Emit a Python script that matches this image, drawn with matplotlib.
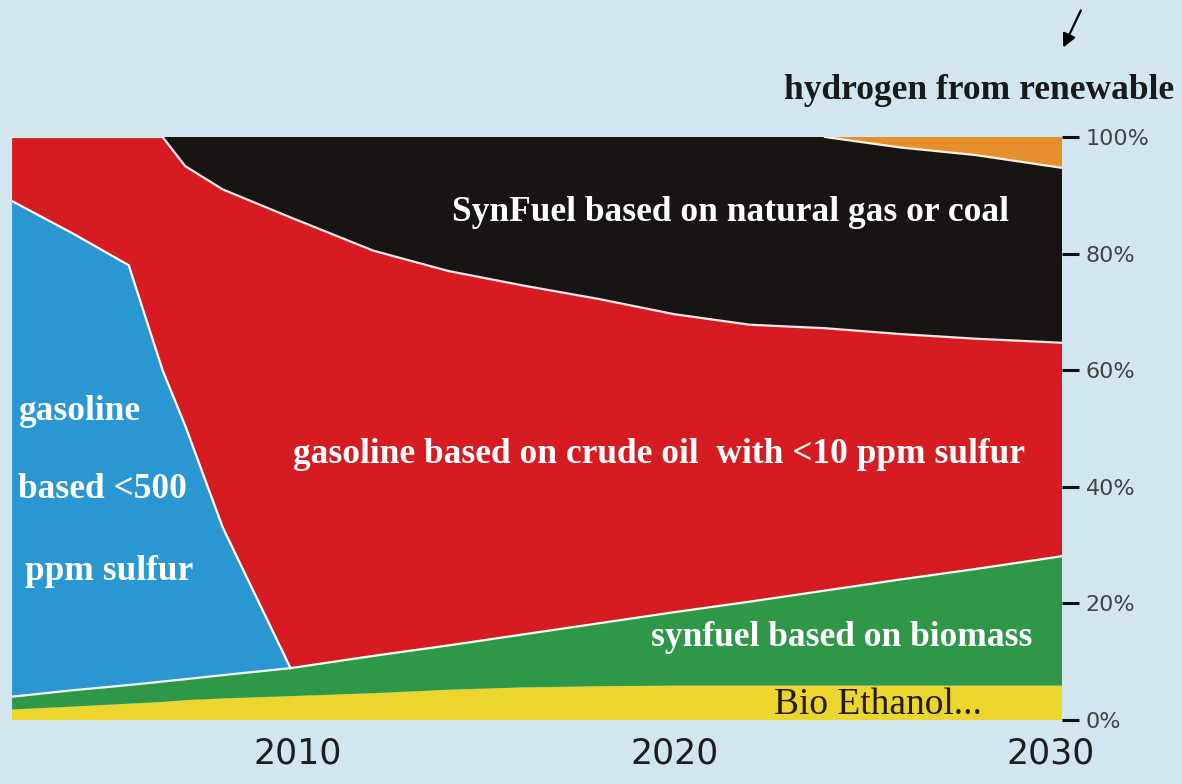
import matplotlib
matplotlib.use("Agg")
import matplotlib.pyplot as plt
import numpy as np

# years sampled along the chart and the share (%) of each fuel
years = [2002.4, 2004, 2005.5, 2006.4, 2007, 2008, 2009.8, 2012, 2014,
         2016, 2018, 2020, 2022, 2024, 2026, 2028, 2030.3]
bio_ethanol = [1.8, 2.3, 2.8, 3.1, 3.4, 3.7, 4.1, 4.6, 5.2,
               5.6, 5.8, 5.9, 5.9, 5.9, 5.9, 5.9, 5.9]
synfuel_biomass = [2.2, 2.8, 3.2, 3.5, 3.6, 4.0, 4.8, 6.4, 7.6,
                   9.1, 10.8, 12.6, 14.4, 16.3, 18.2, 20.0, 22.2]
gasoline_500ppm = [85.0, 78.4, 72.0, 53.4, 43.5, 25.3, 0, 0, 0,
                   0, 0, 0, 0, 0, 0, 0, 0]
gasoline_10ppm = [11.0, 16.5, 22.0, 40.0, 44.5, 58.0, 77.3, 69.5, 64.2,
                  59.8, 55.6, 51.1, 47.5, 45.0, 42.1, 39.5, 36.6]
synfuel_gas_coal = [0, 0, 0, 0, 5.0, 9.0, 13.8, 19.5, 23.0,
                    25.5, 27.8, 30.4, 32.2, 32.8, 32.0, 31.5, 30.0]
hydrogen = [0, 0, 0, 0, 0, 0, 0, 0, 0,
            0, 0, 0, 0, 0, 1.8, 3.1, 5.3]

x_ticks = [2010, 2020, 2030]
y_ticks = [0, 20, 40, 60, 80, 100]
y_labels = ["0%", "20%", "40%", "60%", "80%", "100%"]

colors = ["#ecd52c", "#2e9848", "#2a97d3", "#d61c22", "#191414", "#e5902c"]
bg = "#d2e6f0"

fig = plt.figure(figsize=(11.82, 7.84), dpi=100, facecolor=bg)
ax = fig.add_axes([0.0102, 0.0816, 0.8883, 0.7437])
ax.set_facecolor(bg)

layers = [bio_ethanol, synfuel_biomass, gasoline_500ppm, gasoline_10ppm,
          synfuel_gas_coal, hydrogen]
ax.stackplot(years, *layers, colors=colors, linewidth=0)

# pale separating lines between the areas
tops = np.cumsum(np.array(layers, dtype=float), axis=0)
yrs = np.array(years)
ax.plot(yrs, tops[1], color="#f4fff4", lw=1.6)
m = yrs <= 2009.8
ax.plot(yrs[m], tops[2][m], color="white", lw=1.6)
ax.plot(yrs, tops[3], color="#ffe8e8", lw=1.6)
m = tops[4] < 99.9
m[np.argmax(m) - 1] = True
ax.plot(yrs[m], tops[4][m], color="#fff0dc", lw=1.6)

ax.set_xlim(2002.4, 2030.3)
ax.set_ylim(0, 100)
for s in ax.spines.values():
    s.set_visible(False)

ax.set_xticks(x_ticks)
ax.set_xticklabels([str(v) for v in x_ticks], fontsize=25, color="#1e1e1e",
                   family=["Liberation Sans Narrow", "DejaVu Sans"])
ax.tick_params(axis="x", length=0, pad=12)
ax.yaxis.tick_right()
ax.set_yticks(y_ticks)
ax.set_yticklabels(y_labels, fontsize=16, color="#444444")
ax.tick_params(axis="y", length=12, width=2.2, color="#111111", pad=5)

serif = "Liberation Serif"
ax.text(2021.5, 87.1, "SynFuel based on natural gas or coal", color="white",
        fontsize=25.5, fontweight="bold", family=serif, ha="center", va="center")
ax.text(2019.6, 45.5, "gasoline based on crude oil  with <10 ppm sulfur",
        color="white", fontsize=25.5, fontweight="bold", family=serif,
        ha="center", va="center")
ax.text(2024.45, 14.1, "synfuel based on biomass", color="white",
        fontsize=25.5, fontweight="bold", family=serif, ha="center", va="center")
ax.text(2025.4, 2.6, "Bio Ethanol...", color="#231a08",
        fontsize=27, family=serif, ha="center", va="center")
ax.text(2002.55, 53.0, "gasoline", color="white", fontsize=25.5,
        fontweight="bold", family=serif, ha="left", va="center")
ax.text(2002.55, 39.5, "based <500", color="white", fontsize=25.5,
        fontweight="bold", family=serif, ha="left", va="center")
ax.text(2002.75, 25.5, "ppm sulfur", color="white", fontsize=25.5,
        fontweight="bold", family=serif, ha="left", va="center")

fig.text(0.828, 0.885, "hydrogen from renewable", color="#1a1a1a",
         fontsize=25.5, fontweight="bold", family=serif, ha="center",
         va="center")
ax.annotate("", xy=(0.8985, 0.9362), xycoords="figure fraction",
            xytext=(0.9154, 0.9898), textcoords="figure fraction",
            arrowprops=dict(arrowstyle="-|>", color="black", lw=1.6,
                            mutation_scale=20))

fig.savefig("out.png", dpi=100, facecolor=bg)
